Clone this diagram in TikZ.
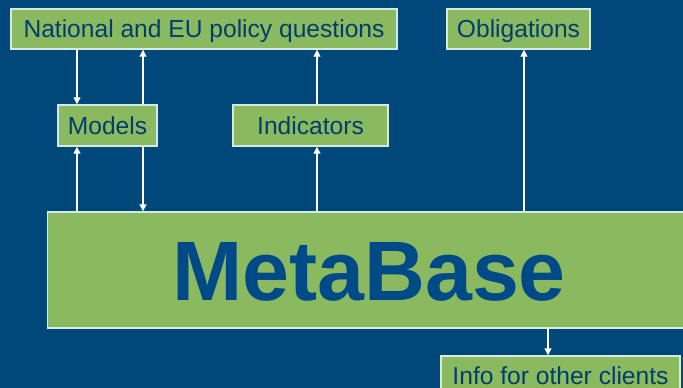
\documentclass[tikz,border=0pt]{standalone}
\usepackage{fontspec}
\setmainfont{Liberation Sans}
\usepackage{tikz}
\usetikzlibrary{arrows.meta}

\definecolor{bgblue}{RGB}{0,72,122}
\definecolor{boxgreen}{RGB}{138,185,96}
\definecolor{boxline}{RGB}{210,235,230}
\definecolor{txtblue}{RGB}{0,62,110}
\definecolor{metablue}{RGB}{0,75,135}

\begin{document}
\begin{tikzpicture}[
    x=0.02cm, y=-0.02cm,
    >={Triangle[length=4pt,width=4pt]},
    box/.style={
        draw=boxline,
        line width=0.8pt,
        fill=boxgreen,
        text=txtblue,
        font=\fontsize{14}{16}\selectfont,
        text height=10pt,
        text depth=0pt,
        inner sep=0pt,
        minimum height=0.8cm
    },
    flow/.style={white, line width=0.7pt, ->}
]

% Fons
\useasboundingbox (0,0) rectangle (683,388);
\fill[bgblue] (0,0) rectangle (683,388);
\clip (0,0) rectangle (683,388);

% Caixes de dalt
\node[box, minimum width=7.72cm] (nat) at (204,29) {National and EU policy questions};
\node[box, minimum width=2.86cm] (obl) at (518.5,29) {Obligations};

% Caixes del mig
\node[box, minimum width=1.98cm, minimum height=0.82cm] (models) at (107.5,125.5) {Models};
\node[box, minimum width=3.1cm, minimum height=0.82cm] (ind) at (310.5,125.5) {Indicators};

% Base central
\node[
    box,
    minimum width=12.86cm,
    minimum height=2.32cm,
    text=metablue,
    font=\fontsize{48}{54}\selectfont\bfseries,
    text height=35pt
] (meta) at (369,270) {MetaBase};

% Caixa de sota
\node[box, minimum width=4.78cm] (info) at (560.5,376) {Info for other clients};

% Columnes de les fletxes
\coordinate (c1) at (77,0);
\coordinate (c2) at (143,0);
\coordinate (c3) at (317,0);
\coordinate (c4) at (524,0);
\coordinate (c5) at (548,0);

% Fletxes
\draw[flow] (nat.south -| c1) -- (models.north -| c1);
\draw[flow] (models.north -| c2) -- (nat.south -| c2);
\draw[flow] (ind.north -| c3) -- (nat.south -| c3);

\draw[flow] (meta.north -| c1) -- (models.south -| c1);
\draw[flow] (models.south -| c2) -- (meta.north -| c2);
\draw[flow] (meta.north -| c3) -- (ind.south -| c3);
\draw[flow] (meta.north -| c4) -- (obl.south -| c4);

\draw[flow] (meta.south -| c5) -- (info.north -| c5);

\end{tikzpicture}
\end{document}
